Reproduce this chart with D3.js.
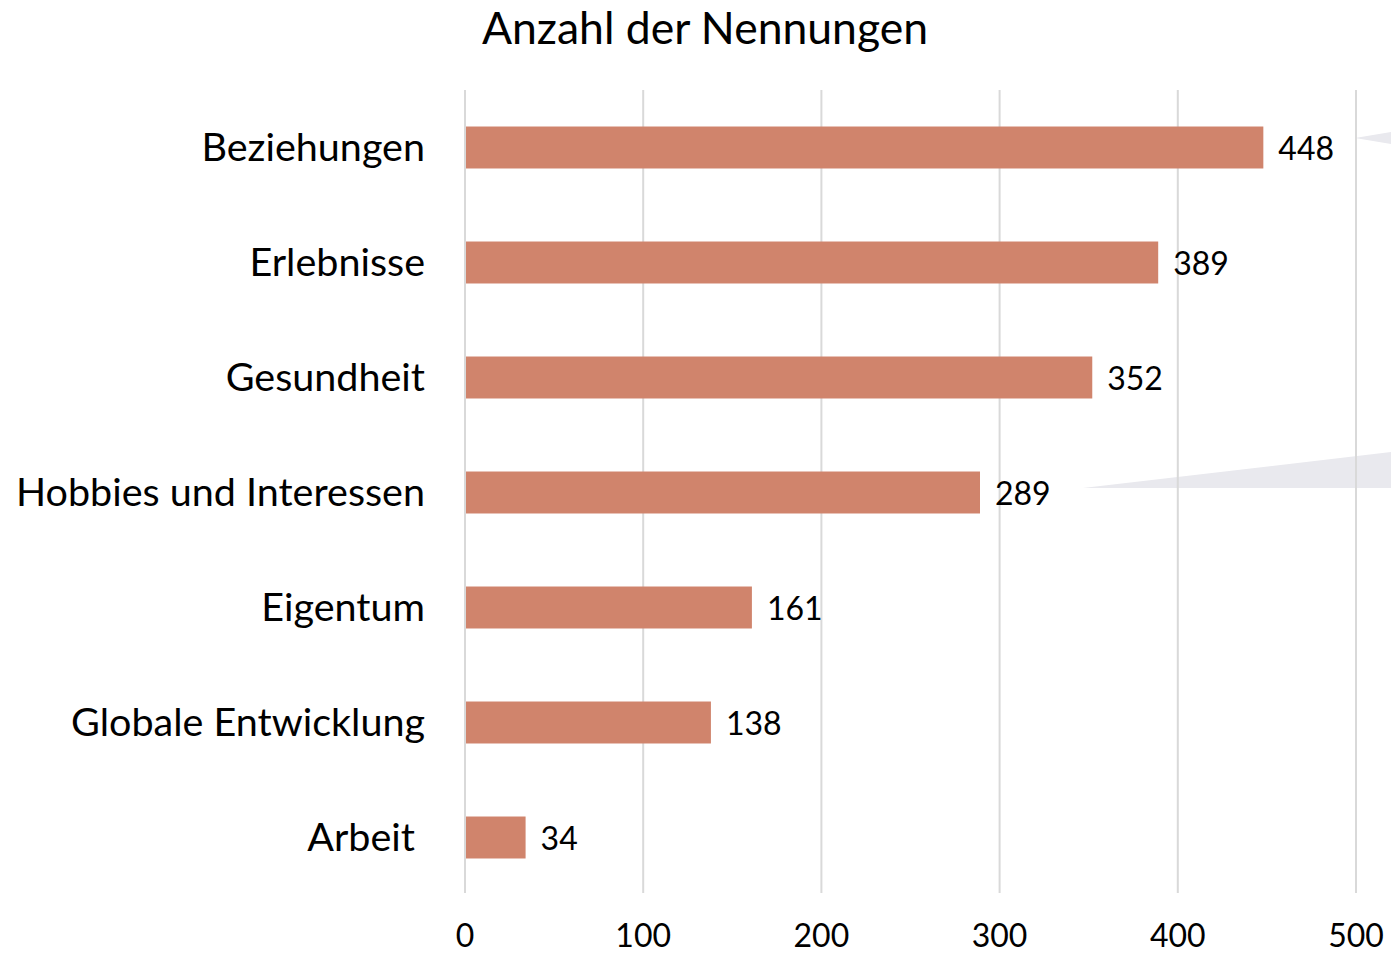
<!DOCTYPE html>
<html>
<head>
<meta charset="utf-8">
<script src="https://cdn.jsdelivr.net/npm/d3@7"></script>
<style>
  body { margin: 0; background: #fff; }
  text { font-family: Lato, "Open Sans", sans-serif; fill: #000; }
</style>
</head>
<body>
<svg id="chart" width="1391" height="957"></svg>
<script>
const categories = ["Beziehungen", "Erlebnisse", "Gesundheit", "Hobbies und Interessen", "Eigentum", "Globale Entwicklung", "Arbeit\u00a0"];
const values = [448, 389, 352, 289, 161, 138, 34];
const ticks = [0, 100, 200, 300, 400, 500];
const title = "Anzahl der Nennungen";

const svg = d3.select("#chart");

const x = d3.scaleLinear().domain([0, 500]).range([465, 1356]);
const y = d3.scaleBand().domain(categories).range([90, 895]).paddingInner(0.635).paddingOuter(0.3175);

// grey wedges (callout shapes cut off at right edge)
svg.append("path")
  .attr("d", "M1355,138 L1391,132 L1391,144 Z")
  .attr("fill", "#e9e9ee");
svg.append("path")
  .attr("d", "M1083,488 L1391,452 L1391,488 Z")
  .attr("fill", "#e9e9ee");

// gridlines
svg.append("g").selectAll("line")
  .data(ticks)
  .enter()
  .append("line")
  .attr("x1", d => x(d)).attr("x2", d => x(d))
  .attr("y1", 90).attr("y2", 893)
  .attr("stroke", "#d9d9d9")
  .attr("stroke-width", 2);

// bars
svg.append("g").selectAll("rect")
  .data(values)
  .enter()
  .append("rect")
  .attr("x", x(0) + 1)
  .attr("y", (d, i) => y(categories[i]))
  .attr("width", d => x(d) - x(0) - 1)
  .attr("height", y.bandwidth())
  .attr("fill", "#d0846c");

// value labels
svg.append("g").selectAll("text")
  .data(values)
  .enter()
  .append("text")
  .attr("x", d => x(d) + 15)
  .attr("y", (d, i) => y(categories[i]) + y.bandwidth() / 2)
  .attr("dy", "0.4em")
  .style("font-size", "32px")
  .text(d => d);

// category labels
svg.append("g").selectAll("text")
  .data(categories)
  .enter()
  .append("text")
  .attr("x", 425)
  .attr("y", d => y(d) + y.bandwidth() / 2)
  .attr("dy", "0.34em")
  .attr("text-anchor", "end")
  .style("font-size", "39.5px")
  .style("white-space", "pre")
  .text(d => d);

// x axis tick labels
svg.append("g").selectAll("text")
  .data(ticks)
  .enter()
  .append("text")
  .attr("x", d => x(d))
  .attr("y", 947)
  .attr("text-anchor", "middle")
  .style("font-size", "32px")
  .text(d => d);

// title
svg.append("text")
  .attr("x", 705)
  .attr("y", 44)
  .attr("text-anchor", "middle")
  .style("font-size", "44.5px")
  .text(title);
</script>
</body>
</html>
